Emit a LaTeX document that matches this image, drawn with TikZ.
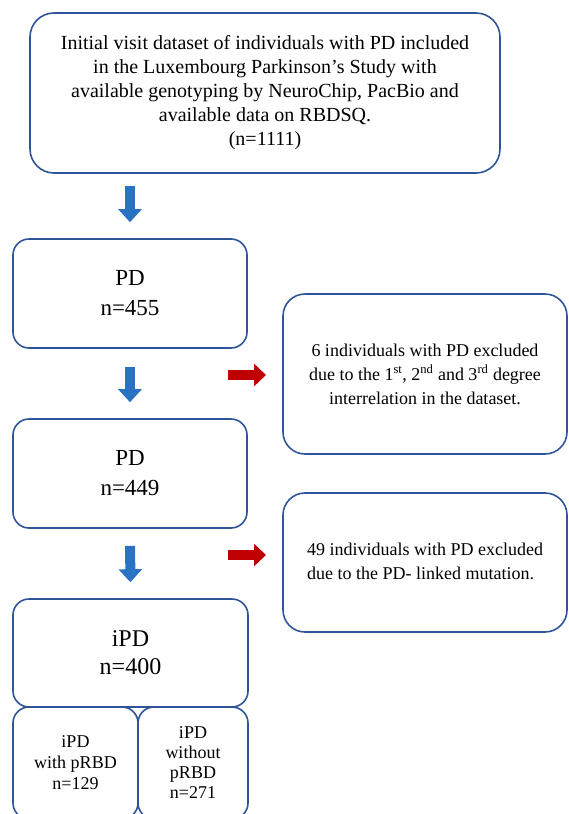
\documentclass[tikz,border=0pt]{standalone}
\usepackage{fontspec}
\setmainfont{Liberation Serif}
\usetikzlibrary{arrows.meta}
\definecolor{boxblue}{HTML}{2F5597}
\definecolor{arrblue}{HTML}{2A72C2}
\definecolor{arrred}{HTML}{C00000}

\begin{document}
\begin{tikzpicture}[x=1pt,y=-1pt,
    box/.style={draw=boxblue,line width=1.6pt,rounded corners=16pt,align=center,inner sep=0pt},
    downarr/.style={draw=arrblue,line width=10pt,-{Triangle[width=23pt,length=13pt]}},
    rightarr/.style={draw=arrred,line width=10pt,-{Triangle[width=22pt,length=12pt]}}]
    \useasboundingbox (0,0) rectangle (568,814);
    \clip (0,0) rectangle (568,814);
    % Linke Spalte: Auswahl der Teilnehmer
    \node[box,rounded corners=24pt,minimum width=470pt,minimum height=160pt,
        font=\fontsize{20}{24}\selectfont] (visit) at (265,93)
        {Initial visit dataset of individuals with PD included\\
         in the Luxembourg Parkinson's Study with\\
         available genotyping by NeuroChip, PacBio and\\
         available data on RBDSQ.\\(n=1111)};
    \node[box,minimum width=234pt,minimum height=109pt,
        font=\fontsize{23}{30}\selectfont] (pdA) at (130,293.5) {PD\\n=455};
    \node[box,minimum width=234pt,minimum height=109pt,
        font=\fontsize{23}{30}\selectfont] (pdB) at (130,473.5) {PD\\n=449};
    \node[box,minimum width=235pt,minimum height=108pt,
        font=\fontsize{24}{28}\selectfont] (ipd) at (130.5,653) {iPD\\n=400};
    \node[box,minimum width=125pt,minimum height=112pt,
        font=\fontsize{18}{21}\selectfont] (withR) at (75.5,763) {iPD\\with pRBD\\n=129};
    \node[box,minimum width=110pt,minimum height=112pt,
        font=\fontsize{18}{20}\selectfont] (withoutR) at (193,763) {iPD\\without\\pRBD\\n=271};
    % Rechte Spalte: Ausschluesse
    \node[box,rounded corners=22pt,minimum width=284pt,minimum height=160pt,
        font=\fontsize{18}{24}\selectfont] (exclA) at (425,374)
        {6 individuals with PD excluded\\
         due to the 1\textsuperscript{st}, 2\textsuperscript{nd} and 3\textsuperscript{rd} degree\\
         interrelation in the dataset.};
    \node[box,rounded corners=22pt,minimum width=284pt,minimum height=139pt,
        font=\fontsize{18}{24}\selectfont] (exclB) at (425,562.5)
        {\begin{tabular}{@{}l@{}}49 individuals with PD excluded\\
         due to the PD- linked mutation.\end{tabular}};
    % Pfeile
    \draw[downarr,shorten <=12pt,shorten >=16pt] (visit.south -| pdA.north) -- (pdA.north);
    \draw[downarr,shorten <=18pt,shorten >=16pt] (pdA.south) -- (pdB.north);
    \draw[downarr,shorten <=17pt,shorten >=16pt] (pdB.south) -- (ipd.north);
    \coordinate (redA) at (228,375);
    \coordinate (redB) at (228,555);
    \draw[rightarr] (redA) -- ++(38,0);
    \draw[rightarr] (redB) -- ++(38,0);
\end{tikzpicture}
\end{document}
